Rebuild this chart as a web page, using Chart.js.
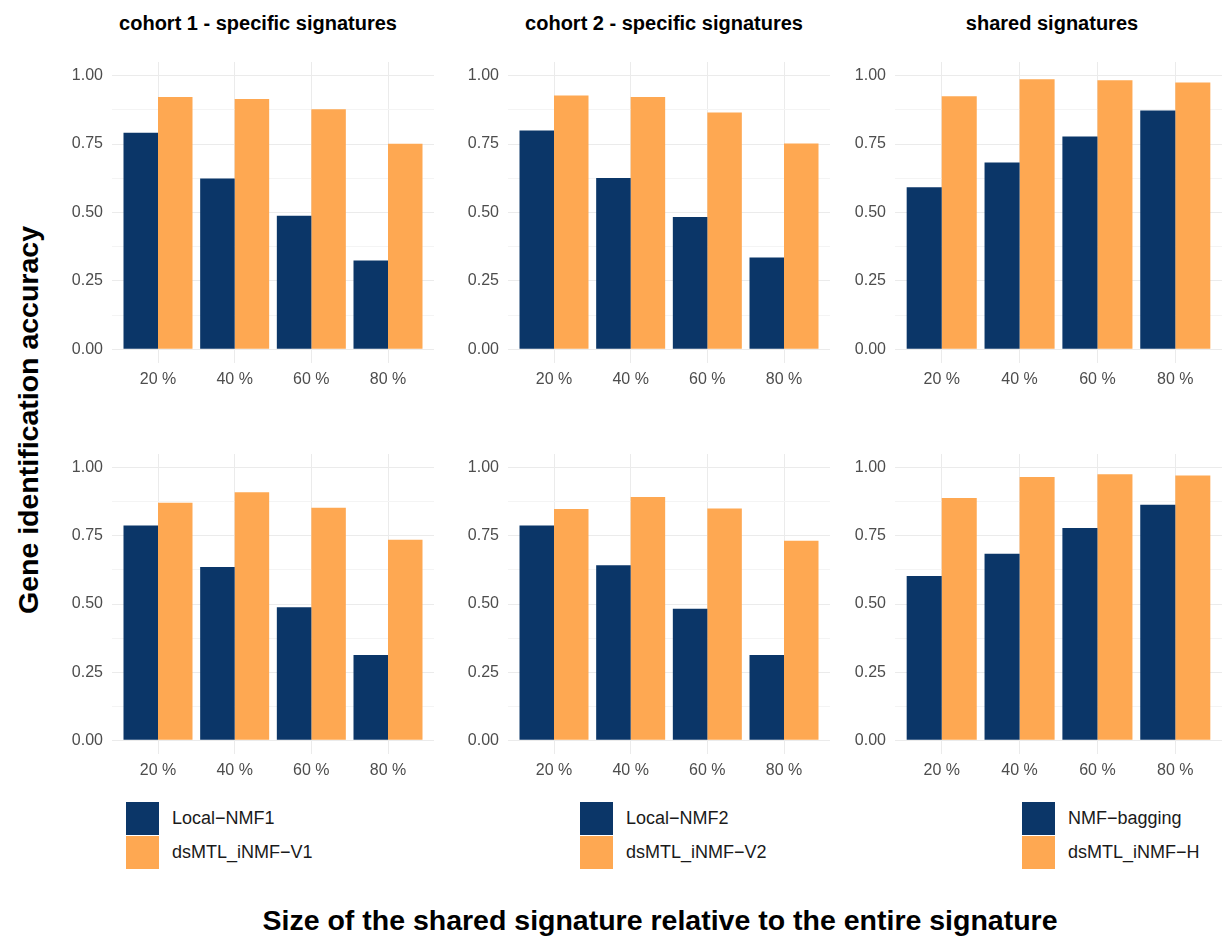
<!DOCTYPE html>
<html lang="en">
<head>
  <meta charset="UTF-8" />
  <title>Gene identification accuracy</title>
  <script src="https://cdn.jsdelivr.net/npm/chart.js"></script>
  <style>
    body {
      margin: 0;
      width: 1222px;
      height: 938px;
      background: #fff;
      font-family: 'Liberation Sans', Arial, Helvetica, sans-serif;
      position: relative;
      overflow: hidden;
      color: #000;
    }

    canvas {
      position: absolute;
    }

    .panel-title {
      position: absolute;
      top: 23px;
      font-size: 20px;
      font-weight: bold;
      white-space: nowrap;
      transform: translate(-50%, -50%);
    }

    .axis-title {
      position: absolute;
      font-size: 28.5px;
      font-weight: bold;
      white-space: nowrap;
    }

    #yTitle {
      left: 28px;
      top: 420px;
      transform: translate(-50%, -50%) rotate(-90deg);
    }

    #xTitle {
      left: 660px;
      top: 920px;
      transform: translate(-50%, -50%);
    }

    .legend {
      position: absolute;
      top: 801px;
    }

    .key {
      display: flex;
      align-items: center;
      height: 34px;
      font-size: 18px;
      color: #1a1a1a;
    }

    .key span {
      display: inline-block;
      width: 33px;
      height: 33px;
      margin-right: 13px;
    }
  </style>
</head>
<body>

  <div class="panel-title" style="left:258px">cohort 1 - specific signatures</div>
  <div class="panel-title" style="left:664px">cohort 2 - specific signatures</div>
  <div class="panel-title" style="left:1052px">shared signatures</div>

  <canvas id="c1top"></canvas>
  <canvas id="c2top"></canvas>
  <canvas id="sharedTop"></canvas>
  <canvas id="c1bottom"></canvas>
  <canvas id="c2bottom"></canvas>
  <canvas id="sharedBottom"></canvas>

  <div class="legend" id="legend1" style="left:126px"></div>
  <div class="legend" id="legend2" style="left:580px"></div>
  <div class="legend" id="legend3" style="left:1022px"></div>

  <div class="axis-title" id="yTitle">Gene identification accuracy</div>
  <div class="axis-title" id="xTitle">Size of the shared signature relative to the entire signature</div>

  <script>
    const sizes = ["20 %", "40 %", "60 %", "80 %"];
    const yMajor = [0, 0.25, 0.5, 0.75, 1];
    const yMinor = [0.125, 0.375, 0.625, 0.875];

    // first row of panels
    const localNmf1Top = [0.791, 0.624, 0.488, 0.325];
    const dsmtlV1Top = [0.922, 0.915, 0.877, 0.751];
    const localNmf2Top = [0.800, 0.626, 0.484, 0.336];
    const dsmtlV2Top = [0.928, 0.922, 0.865, 0.752];
    const nmfBaggingTop = [0.592, 0.683, 0.778, 0.873];
    const dsmtlHTop = [0.925, 0.987, 0.983, 0.975];

    // second row of panels
    const localNmf1Bottom = [0.788, 0.636, 0.488, 0.313];
    const dsmtlV1Bottom = [0.871, 0.910, 0.853, 0.736];
    const localNmf2Bottom = [0.788, 0.642, 0.483, 0.313];
    const dsmtlV2Bottom = [0.848, 0.892, 0.850, 0.732];
    const nmfBaggingBottom = [0.603, 0.684, 0.779, 0.864];
    const dsmtlHBottom = [0.889, 0.966, 0.976, 0.971];

    const legendNames = [
      ["Local\u2212NMF1", "dsMTL_iNMF\u2212V1"],
      ["Local\u2212NMF2", "dsMTL_iNMF\u2212V2"],
      ["NMF\u2212bagging", "dsMTL_iNMF\u2212H"]
    ];

    const BLUE = '#0b3668';
    const ORANGE = '#fea852';
    const GRID = '#ebebeb';
    const GRID_MINOR = '#f4f4f4';

    Chart.defaults.font.family = "'Liberation Sans', Arial, Helvetica, sans-serif";

    // plot area boxes
    const cols = [[112, 434], [508, 830], [895, 1222]];
    const rows = [[62, 363], [454, 754]];
    const AXIS_W = 60;
    const AXIS_H = 35;

    const panels = [
      { id: 'c1top', col: 0, row: 0, a: localNmf1Top, b: dsmtlV1Top },
      { id: 'c2top', col: 1, row: 0, a: localNmf2Top, b: dsmtlV2Top },
      { id: 'sharedTop', col: 2, row: 0, a: nmfBaggingTop, b: dsmtlHTop },
      { id: 'c1bottom', col: 0, row: 1, a: localNmf1Bottom, b: dsmtlV1Bottom },
      { id: 'c2bottom', col: 1, row: 1, a: localNmf2Bottom, b: dsmtlV2Bottom },
      { id: 'sharedBottom', col: 2, row: 1, a: nmfBaggingBottom, b: dsmtlHBottom }
    ];

    const isMajor = v => yMajor.some(m => Math.abs(m - v) < 1e-6);

    panels.forEach(p => {
      const [left, right] = cols[p.col];
      const [top, bottom] = rows[p.row];
      const canvas = document.getElementById(p.id);
      canvas.width = right - left + AXIS_W;
      canvas.height = bottom - top + AXIS_H;
      canvas.style.left = (left - AXIS_W) + 'px';
      canvas.style.top = top + 'px';

      const names = legendNames[p.col];
      const points = arr => arr.map((v, i) => ({ x: i + 1, y: v }));

      new Chart(canvas.getContext('2d'), {
        type: 'bar',
        data: {
          datasets: [
            { label: names[0], data: points(p.a), backgroundColor: BLUE },
            { label: names[1], data: points(p.b), backgroundColor: ORANGE }
          ]
        },
        options: {
          responsive: false,
          animation: false,
          layout: { padding: 0 },
          datasets: {
            bar: { barPercentage: 1, categoryPercentage: 0.9, borderWidth: 0 }
          },
          plugins: {
            legend: { display: false },
            tooltip: { enabled: false }
          },
          scales: {
            x: {
              type: 'linear',
              min: 0.4,
              max: 4.6,
              offset: false,
              afterBuildTicks: axis => {
                axis.ticks = sizes.map((s, i) => ({ value: i + 1 }));
              },
              afterFit: axis => {
                axis.height = AXIS_H;
                axis.paddingLeft = 0;
                axis.paddingRight = 0;
              },
              ticks: {
                callback: v => sizes[v - 1],
                color: '#4d4d4d',
                font: { size: 16 },
                padding: 7,
                maxRotation: 0,
                autoSkip: false
              },
              grid: { color: GRID, drawTicks: false, offset: false },
              border: { display: false }
            },
            y: {
              min: -0.05,
              max: 1.05,
              afterBuildTicks: axis => {
                axis.ticks = yMajor.concat(yMinor).sort((u, v) => u - v).map(v => ({ value: v }));
              },
              afterFit: axis => {
                axis.width = AXIS_W;
                axis.paddingTop = 0;
                axis.paddingBottom = 0;
              },
              ticks: {
                callback: v => isMajor(v) ? v.toFixed(2) : '',
                color: '#4d4d4d',
                font: { size: 16 },
                padding: 9,
                autoSkip: false
              },
              grid: {
                color: ctx => isMajor(ctx.tick.value) ? GRID : GRID_MINOR,
                drawTicks: false
              },
              border: { display: false }
            }
          }
        }
      });
    });

    // legends under each column
    legendNames.forEach((names, i) => {
      const box = document.getElementById('legend' + (i + 1));
      box.innerHTML = `
        <div class="key"><span style="background:${BLUE}"></span>${names[0]}</div>
        <div class="key"><span style="background:${ORANGE}"></span>${names[1]}</div>
      `;
    });
  </script>

</body>
</html>
